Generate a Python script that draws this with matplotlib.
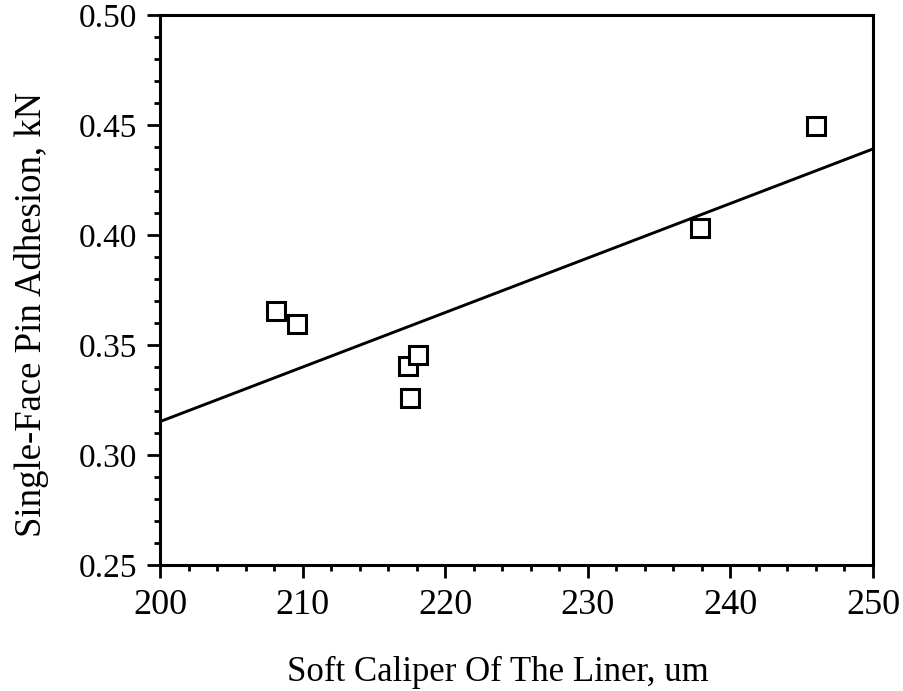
import numpy as np
import matplotlib
matplotlib.use("Agg")
import matplotlib.pyplot as plt
from matplotlib.ticker import MultipleLocator

# soft caliper (um) vs single-face pin adhesion (kN)
caliper = [208.1, 209.6, 217.4, 218.1, 217.5, 237.9, 246.0]
adhesion = [0.3655, 0.3595, 0.3405, 0.3455, 0.326, 0.403, 0.4495]

plt.rcParams["font.family"] = ["Liberation Serif", "DejaVu Serif"]

fig = plt.figure(figsize=(9.04, 6.91), dpi=100)
ax = fig.add_axes([160 / 904, 1 - 565 / 691, 713 / 904, 550 / 691])

# least-squares fit line
slope, icpt = np.polyfit(caliper, adhesion, 1)
xl = np.array([200, 250])
ax.plot(xl, slope * xl + icpt, color="black", lw=2.1)

ax.plot(caliper, adhesion, ls="none", marker="s", ms=13, mfc="white",
        mec="black", mew=2.2)

ax.set_xlim(200, 250)
ax.set_ylim(0.25, 0.50)
ax.xaxis.set_major_locator(MultipleLocator(10))
ax.xaxis.set_minor_locator(MultipleLocator(2))
ax.yaxis.set_major_locator(MultipleLocator(0.05))
ax.yaxis.set_minor_locator(MultipleLocator(0.01))
ax.yaxis.set_major_formatter(plt.FormatStrFormatter("%.2f"))

for s in ax.spines.values():
    s.set_linewidth(2.2)
ax.tick_params(which="major", direction="out", length=9.5, width=2)
ax.tick_params(which="minor", direction="out", length=4.5, width=2)
ax.tick_params(axis="x", which="major", labelsize=26, pad=8)
ax.tick_params(axis="y", which="major", labelsize=24, pad=7)

ax.set_xlabel("Soft Caliper Of The Liner, um", fontsize=25)
ax.set_ylabel("Single-Face Pin Adhesion, kN", fontsize=26.5)
ax.xaxis.set_label_coords(0.474, -0.165)
ax.yaxis.set_label_coords(-0.155, 0.455)

fig.savefig("out.png", dpi=100)
